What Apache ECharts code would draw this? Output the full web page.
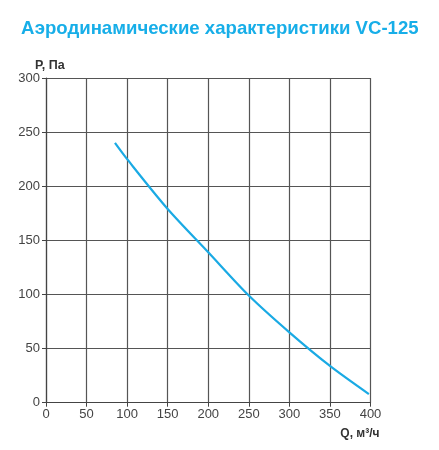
<!DOCTYPE html>
<html>
<head>
<meta charset="utf-8">
<script src="https://cdn.jsdelivr.net/npm/echarts@6/dist/echarts.min.js"></script>
<style>
  html, body { margin: 0; padding: 0; background: #fff; }
  #chart { width: 439px; height: 450px; }
</style>
</head>
<body>
<div id="chart"></div>
<script>
  // расход Q, м³/ч и давление P, Па
  const flowQ = [85, 100, 150, 200, 250, 300, 350, 398];
  const pressureP = [240, 225, 179, 139, 99, 65, 34, 8];

  const chart = echarts.init(document.getElementById('chart'));
  const option = {
    animation: false,
    title: {
      text: 'Аэродинамические характеристики VC-125',
      left: 16,
      top: 14,
      textStyle: {
        color: '#17aee8',
        fontSize: 18.6,
        fontWeight: 'bold',
        fontFamily: 'Liberation Sans, Arial, sans-serif'
      }
    },
    grid: {
      left: 46,
      top: 78,
      right: 68.5,
      bottom: 47.3
    },
    xAxis: {
      type: 'value',
      min: 0,
      max: 400,
      interval: 50,
      name: 'Q, м³/ч',
      nameLocation: 'end',
      nameGap: 0,
      nameTextStyle: {
        color: '#333',
        fontWeight: 'bold',
        fontSize: 12,
        align: 'right',
        verticalAlign: 'top',
        padding: [25, -9, 0, 0]
      },
      axisLine: { lineStyle: { color: '#444', width: 1.2 } },
      axisTick: { show: true, length: 4, lineStyle: { color: '#444' } },
      axisLabel: { color: '#444', fontSize: 13, margin: 5, fontFamily: 'Liberation Sans, Arial, sans-serif' },
      splitLine: { show: true, lineStyle: { color: '#555', width: 1.2 } }
    },
    yAxis: {
      type: 'value',
      min: 0,
      max: 300,
      interval: 50,
      name: 'P, Па',
      nameLocation: 'end',
      nameGap: 6,
      nameTextStyle: {
        color: '#333',
        fontWeight: 'bold',
        fontSize: 12.5,
        align: 'left',
        padding: [0, 0, 0, -11]
      },
      axisLine: { show: true, lineStyle: { color: '#444', width: 1.2 } },
      axisTick: { show: true, length: 4, lineStyle: { color: '#444' } },
      axisLabel: { color: '#444', fontSize: 13, margin: 6, fontFamily: 'Liberation Sans, Arial, sans-serif' },
      splitLine: { show: true, lineStyle: { color: '#555', width: 1.2 } }
    },
    series: [{
      type: 'line',
      data: flowQ.map(function (q, i) { return [q, pressureP[i]]; }),
      smooth: 0.3,
      showSymbol: false,
      lineStyle: { color: '#1aaae4', width: 2.2 }
    }]
  };
  chart.setOption(option);
</script>
</body>
</html>
